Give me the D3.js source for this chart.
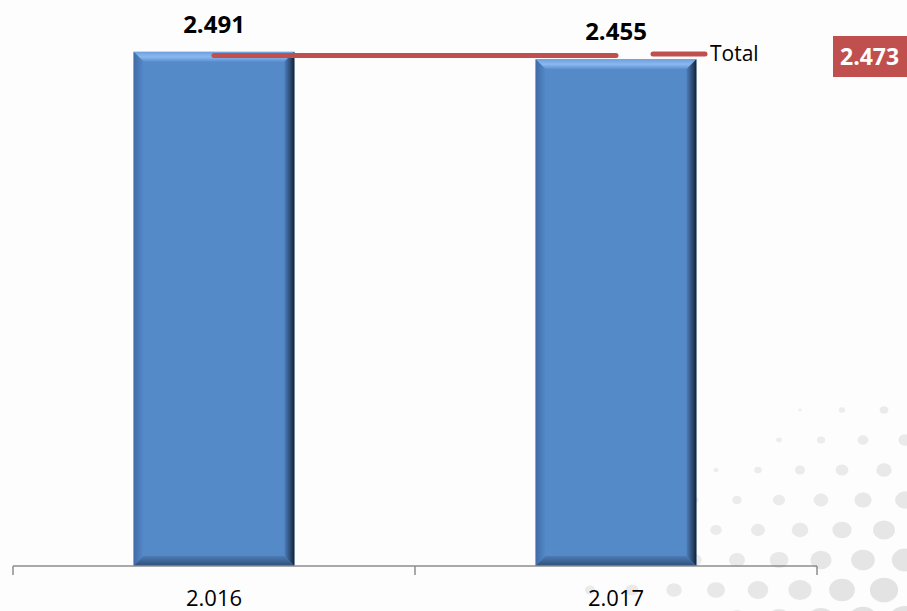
<!DOCTYPE html>
<html>
<head>
<meta charset="utf-8">
<script src="https://cdn.jsdelivr.net/npm/d3@7"></script>
<style>
  body { margin: 0; background: #fdfdfd; }
  svg { display: block; }
</style>
</head>
<body>
<svg id="chart"></svg>
<script>
// data
const years = ["2.016", "2.017"];
const values = [2.491, 2.455];
const totalLabel = "Total";
const totalValue = 2.473;

const width = 907, height = 611;
const axisY = 566;

const svg = d3.select("#chart")
    .attr("width", width)
    .attr("height", height);

// faint dotted background, bottom right (decoration only)
const dots = svg.append("g").attr("fill", "#e2e2e2");
for (let row = 0; row < 8; row++) {
    for (let col = 0; col < 12; col++) {
        const cx = 590 + col * 42 + (row % 2) * 21;
        const cy = 410 + row * 30;
        const t = Math.max(0, (cx - 590) / 300 + (cy - 410) / 170 - 0.5);
        const r = Math.min(14, t * 8);
        if (r > 1.5) dots.append("ellipse")
            .attr("cx", cx).attr("cy", cy)
            .attr("rx", r * 1.15).attr("ry", r)
            .attr("opacity", Math.min(1, 0.5 + t * 0.3));
    }
}

const x = d3.scaleBand()
    .domain(years)
    .range([13, 817])
    .padding(0);

const y = d3.scaleLinear()
    .domain([0, 2.7])
    .range([axisY, axisY - 2.7 * 206.4]);

const barW = x.bandwidth() * 0.4;
const bev = 10;

// gradients for bevel
const defs = svg.append("defs");
const gTop = defs.append("linearGradient").attr("id", "gTop").attr("x1", 0).attr("y1", 0).attr("x2", 0).attr("y2", 1);
gTop.append("stop").attr("offset", 0).attr("stop-color", "#6f9fdc");
gTop.append("stop").attr("offset", 0.5).attr("stop-color", "#8ab8f0");
gTop.append("stop").attr("offset", 1).attr("stop-color", "#5a8dcf");
const gRight = defs.append("linearGradient").attr("id", "gRight").attr("x1", 0).attr("y1", 0).attr("x2", 1).attr("y2", 0);
gRight.append("stop").attr("offset", 0).attr("stop-color", "#4f7fbc");
gRight.append("stop").attr("offset", 0.6).attr("stop-color", "#2c4a70");
gRight.append("stop").attr("offset", 1).attr("stop-color", "#14202f");
const gBottom = defs.append("linearGradient").attr("id", "gBottom").attr("x1", 0).attr("y1", 0).attr("x2", 0).attr("y2", 1);
gBottom.append("stop").attr("offset", 0).attr("stop-color", "#4d7bb5");
gBottom.append("stop").attr("offset", 1).attr("stop-color", "#2f4f78");
const gLeft = defs.append("linearGradient").attr("id", "gLeft").attr("x1", 0).attr("y1", 0).attr("x2", 1).attr("y2", 0);
gLeft.append("stop").attr("offset", 0).attr("stop-color", "#3f6ca6");
gLeft.append("stop").attr("offset", 1).attr("stop-color", "#5589c9");

const bars = svg.append("g")
    .selectAll("g")
    .data(years.map((d, i) => ({ year: d, value: values[i] })))
    .join("g");

bars.each(function(d) {
    const g = d3.select(this);
    const x0 = x(d.year) + (x.bandwidth() - barW) / 2, x1 = x0 + barW;
    const y0 = y(d.value), y1 = y(0);
    const pts = a => a.map(p => p.join(",")).join(" ");
    g.append("rect")
        .attr("x", x0).attr("y", y0)
        .attr("width", barW).attr("height", y1 - y0)
        .attr("fill", "#558ac9");
    g.append("polygon").attr("fill", "url(#gTop)")
        .attr("points", pts([[x0, y0], [x1, y0], [x1 - bev, y0 + bev], [x0 + bev, y0 + bev]]));
    g.append("polygon").attr("fill", "url(#gLeft)")
        .attr("points", pts([[x0, y0], [x0 + bev, y0 + bev], [x0 + bev, y1 - bev], [x0, y1]]));
    g.append("polygon").attr("fill", "url(#gBottom)")
        .attr("points", pts([[x0, y1], [x0 + bev, y1 - bev], [x1 - bev, y1 - bev], [x1, y1]]));
    g.append("polygon").attr("fill", "url(#gRight)")
        .attr("points", pts([[x1, y0], [x1, y1], [x1 - bev, y1 - bev], [x1 - bev, y0 + bev]]));
});

// value labels
bars.append("text")
    .attr("x", d => x(d.year) + x.bandwidth() / 2)
    .attr("y", d => y(d.value) - 19)
    .attr("text-anchor", "middle")
    .attr("font-family", "'Open Sans', sans-serif")
    .attr("font-weight", "bold")
    .attr("font-size", 24)
    .attr("fill", "#000")
    .text(d => d3.format(".3f")(d.value));

// total line between bar centres
const cx = years.map(d => x(d) + x.bandwidth() / 2);
svg.append("line")
    .attr("x1", cx[0]).attr("x2", cx[cx.length - 1])
    .attr("y1", y(totalValue)).attr("y2", y(totalValue))
    .attr("stroke", "#c0504d")
    .attr("stroke-width", 5)
    .attr("stroke-linecap", "round");

// axis
const axis = svg.append("g");
axis.append("line")
    .attr("x1", x.range()[0]).attr("x2", x.range()[1])
    .attr("y1", axisY).attr("y2", axisY)
    .attr("stroke", "#8c8c8c").attr("stroke-width", 1.5);
const edges = years.map(d => x(d)).concat([x.range()[1]]);
axis.selectAll(".tk")
    .data(edges)
    .join("line")
    .attr("x1", d => d).attr("x2", d => d)
    .attr("y1", axisY).attr("y2", axisY + 9)
    .attr("stroke", "#8c8c8c").attr("stroke-width", 1.5);
axis.selectAll(".lbl")
    .data(years)
    .join("text")
    .attr("x", d => x(d) + x.bandwidth() / 2)
    .attr("y", 606)
    .attr("text-anchor", "middle")
    .attr("font-family", "'Open Sans', sans-serif")
    .attr("font-size", 22)
    .attr("fill", "#000")
    .text(d => d);

// legend
const legend = svg.append("g").attr("transform", "translate(653,54)");
legend.append("line")
    .attr("x1", 0).attr("x2", 52)
    .attr("stroke", "#c0504d").attr("stroke-width", 5)
    .attr("stroke-linecap", "round");
legend.append("text")
    .attr("x", 57).attr("y", 0)
    .attr("dy", "0.35em")
    .attr("font-family", "'Open Sans', sans-serif")
    .attr("font-size", 21)
    .attr("fill", "#000")
    .text(totalLabel);

// total value box
svg.append("rect")
    .attr("x", 833).attr("y", 36)
    .attr("width", 80).attr("height", 41)
    .attr("fill", "#c0504d");
svg.append("text")
    .attr("x", 840).attr("y", 57)
    .attr("dy", "0.35em")
    .attr("font-family", "'Open Sans', sans-serif")
    .attr("font-weight", "bold")
    .attr("font-size", 23)
    .attr("fill", "#fff")
    .text(d3.format(".3f")(totalValue));
</script>
</body>
</html>
